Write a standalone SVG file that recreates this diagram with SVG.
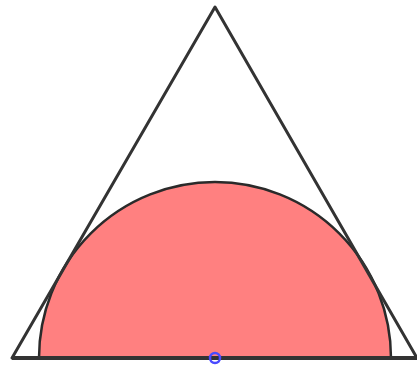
<svg xmlns="http://www.w3.org/2000/svg" width="417" height="370" viewBox="0 0 417 370">
<style>
.tri{fill:none;stroke:#333;stroke-width:3;stroke-linejoin:round;stroke-linecap:round}
.semi{fill:#ff8080;stroke:#2a2a2a;stroke-width:2.5}
.pt{fill:none;stroke:#4a4aff;stroke-width:2.5}
</style>
<rect width="417" height="370" fill="#fff"/>
<g id="semicircle"><path class="semi" d="M39 358 A176 176 0 0 1 391 358 Z"/></g>
<g id="connectors">
<path class="tri" d="M12 358 L215 7 L417 358 Z"/>
<line x1="12" y1="358" x2="417" y2="358" stroke="#333" stroke-width="4"/>
</g>
<g id="center"><circle class="pt" cx="215" cy="358" r="5"/></g>
</svg>
